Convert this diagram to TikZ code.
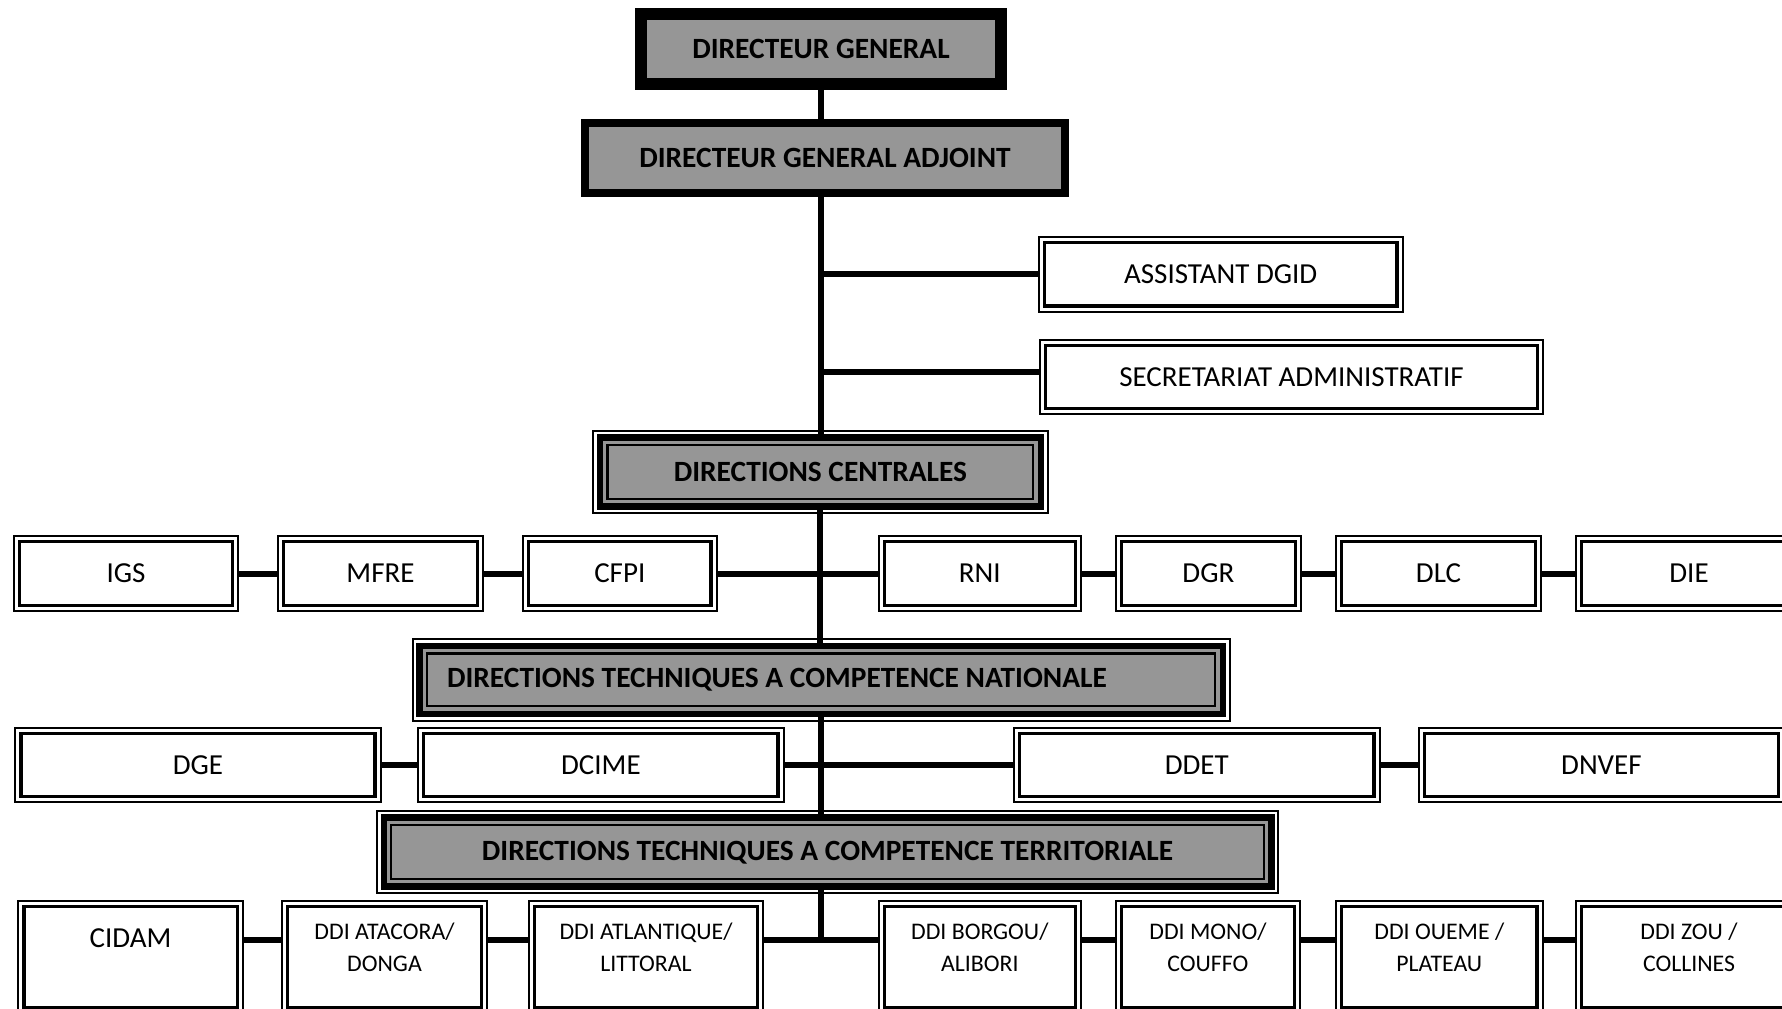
\documentclass[tikz,border=0pt]{standalone}
\usepackage{fontspec}
\setmainfont{Carlito}
\usepackage{tikz}

\definecolor{boxgray}{RGB}{150,150,150}

\begin{document}
\begin{tikzpicture}[
    x=0.5pt, y=-0.5pt,
    chief/.style={rectangle, draw, fill=boxgray, inner sep=0pt, minimum height=35pt, font=\fontsize{14.7}{17}\selectfont\bfseries},
    head/.style={rectangle, draw, line width=3.3pt, fill=boxgray, inner sep=0pt, minimum height=34.5pt, font=\fontsize{14.7}{17}\selectfont\bfseries,
        path picture={\draw[line width=1.1pt] ([shift={(3.75pt,-3.75pt)}]path picture bounding box.north west) rectangle ([shift={(-3.75pt,3.75pt)}]path picture bounding box.south east);},
        append after command={\pgfextra{
            \draw[line width=1pt] ([shift={(-1.7pt,1.7pt)}]\tikzlastnode.north west) rectangle ([shift={(1.7pt,-1.7pt)}]\tikzlastnode.south east);}}},
    unit/.style={rectangle, draw, line width=1pt, fill=white, inner sep=0pt, minimum height=37.5pt, font=\fontsize{14.5}{17}\selectfont,
        path picture={\draw[line width=1.7pt] ([shift={(2.85pt,-2.85pt)}]path picture bounding box.north west) rectangle ([shift={(-2.85pt,2.85pt)}]path picture bounding box.south east);}},
    ddi/.style={unit, anchor=north, text width=90pt, align=flush center, text height=19.3pt, text depth=36.7pt, font=\fontsize{11.9}{16}\selectfont},
    link/.style={line width=3pt}
]
    \useasboundingbox (0,0) rectangle (1782,1008);
    \clip (0,0) rectangle (1782,1008);

    \node[chief, line width=6pt, minimum width=180pt] (dg) at (821,49) {DIRECTEUR GENERAL};
    \node[chief, line width=4pt, minimum width=240pt] (dga) at (825,158) {DIRECTEUR GENERAL ADJOINT};

    \node[unit, minimum width=182pt] (asst) at (1220.7,274.2) {ASSISTANT DGID};
    \node[unit, minimum width=251.5pt, minimum height=37pt] (secr) at (1291.5,377) {SECRETARIAT ADMINISTRATIF};

    \node[head, minimum width=220.4pt] (dc) at (820.4,471.7) {DIRECTIONS CENTRALES};
    \node[unit, minimum width=112.4pt] (igs) at (126,573.5) {IGS};
    \node[unit, minimum width=102.5pt] (mfre) at (380.5,573.5) {MFRE};
    \node[unit, minimum width=96.8pt] (cfpi) at (619.8,573.5) {CFPI};
    \node[unit, minimum width=101.2pt] (rni) at (979.8,573.5) {RNI};
    \node[unit, minimum width=92.7pt] (dgr) at (1208.4,573.5) {DGR};
    \node[unit, minimum width=102.5pt] (dlc) at (1438.5,573.5) {DLC};
    \node[unit, minimum width=113.3pt] (die) at (1689,573.5) {DIE};

    \node[head, minimum height=33.9pt, text width=374pt, align=flush left, inner xsep=13.9pt] (dtcn) at (821,679.9) {DIRECTIONS TECHNIQUES A COMPETENCE NATIONALE};
    \node[unit, minimum width=182.7pt, minimum height=37.3pt] (dge) at (198,765) {DGE};
    \node[unit, minimum width=182.9pt, minimum height=37.3pt] (dcime) at (600.9,765) {DCIME};
    \node[unit, minimum width=182.8pt, minimum height=37.3pt] (ddet) at (1196.8,765) {DDET};
    \node[unit, minimum width=182.8pt, minimum height=37.3pt] (dnvef) at (1601.4,765) {DNVEF};

    \node[head, minimum width=443.7pt] (dtct) at (827.5,852.2) {DIRECTIONS TECHNIQUES A COMPETENCE TERRITORIALE};
    \node[ddi, minimum width=112.4pt, font=\fontsize{14.5}{17}\selectfont, text height=23pt, text depth=33pt] (cidam) at (130.6,900) {CIDAM};
    \node[ddi, minimum width=102.5pt] (atacora) at (384.5,900) {DDI ATACORA/\\DONGA};
    \node[ddi, minimum width=117pt] (atlantique) at (646,900) {DDI ATLANTIQUE/\\LITTORAL};
    \node[ddi, minimum width=101.2pt] (borgou) at (979.8,900) {DDI BORGOU/\\ALIBORI};
    \node[ddi, minimum width=92.2pt] (mono) at (1207.9,900) {DDI MONO/\\COUFFO};
    \node[ddi, minimum width=103.3pt] (oueme) at (1439.3,900) {DDI OUEME /\\PLATEAU};
    \node[ddi, minimum width=113.3pt] (zou) at (1689,900) {DDI ZOU /\\COLLINES};

    \draw[link] (dg.south) -- (dg.south |- dga.north);
    \draw[link] (dg.south |- dga.south) -- (dg.south |- dc.north);
    \draw[link] (asst.west) -- (asst.west -| dg.south);
    \coordinate (secr-in) at ([yshift=2.65pt]secr.west);
    \draw[link] (secr-in) -- (secr-in -| dg.south);

    \draw[link] (dc.south) -- (dc.south |- dtcn.north);
    \draw[link] (igs) -- (mfre);
    \draw[link] (mfre) -- (cfpi);
    \draw[link] (cfpi) -- (rni);
    \draw[link] (rni) -- (dgr);
    \draw[link] (dgr) -- (dlc);
    \draw[link] (dlc) -- (die);

    \draw[link] (dtcn.south) -- (dtcn.south |- dtct.north);
    \draw[link] (dge) -- (dcime);
    \draw[link] (dcime) -- (ddet);
    \draw[link] (ddet) -- (dnvef);

    \draw[link] (dtcn.south |- dtct.south) -- (dtcn.south |- atlantique.base);
    \draw[link] (cidam.east |- atacora.base) -- (atacora.base west);
    \draw[link] (atacora.base east) -- (atlantique.base west);
    \draw[link] (atlantique.base east) -- (borgou.base west);
    \draw[link] (borgou.base east) -- (mono.base west);
    \draw[link] (mono.base east) -- (oueme.base west);
    \draw[link] (oueme.base east) -- (zou.base west);
\end{tikzpicture}
\end{document}
